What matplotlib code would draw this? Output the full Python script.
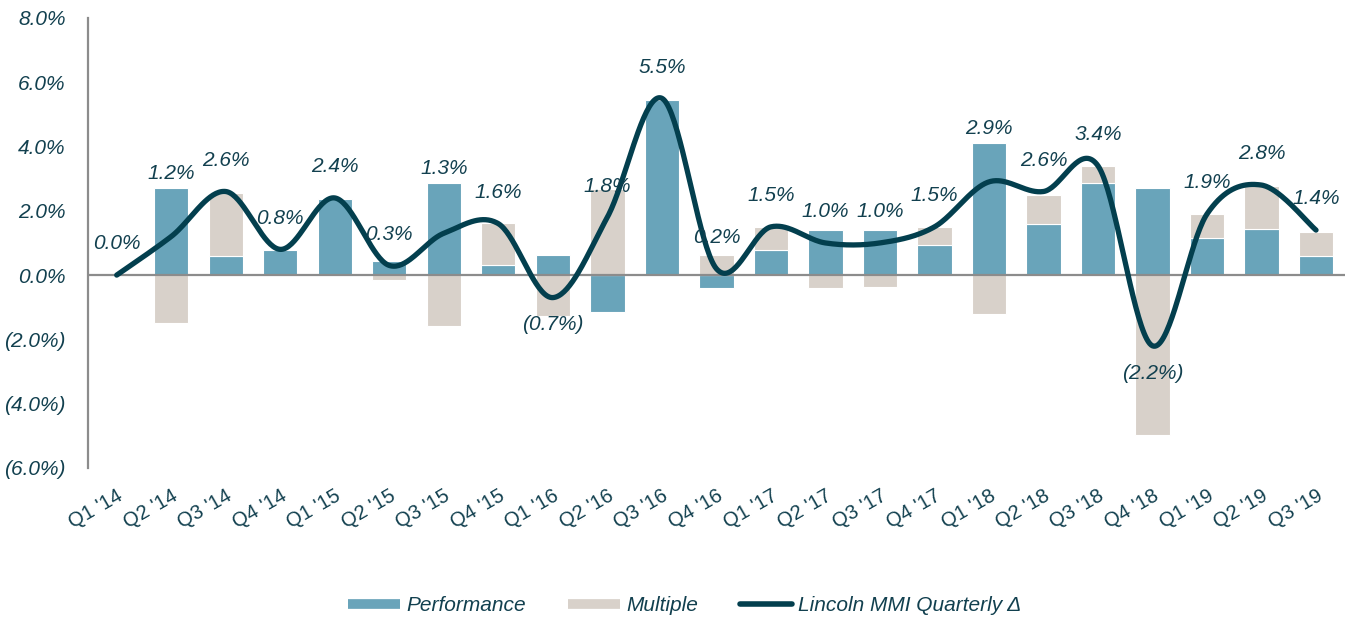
import numpy as np
import matplotlib.pyplot as plt
from matplotlib.lines import Line2D

plt.rcParams['font.family'] = ['Liberation Sans', 'DejaVu Sans']

quarters = ["Q1 '14", "Q2 '14", "Q3 '14", "Q4 '14",
            "Q1 '15", "Q2 '15", "Q3 '15", "Q4 '15",
            "Q1 '16", "Q2 '16", "Q3 '16", "Q4 '16",
            "Q1 '17", "Q2 '17", "Q3 '17", "Q4 '17",
            "Q1 '18", "Q2 '18", "Q3 '18", "Q4 '18",
            "Q1 '19", "Q2 '19", "Q3 '19"]

performance = [0.0, 2.7, 0.6, 0.77, 2.38, 0.45, 2.85, 0.3,
               0.62, -1.15, 5.45, -0.4, 0.77, 1.4, 1.4, 0.95,
               4.12, 1.6, 2.85, 2.7, 1.15, 1.42, 0.6]
multiple = [0.0, -1.5, 1.95, 0.0, 0.0, -0.15, -1.58, 1.32,
            -1.27, 2.67, 0.0, 0.64, 0.74, -0.41, -0.36, 0.56,
            -1.22, 0.9, 0.54, -4.96, 0.74, 1.34, 0.73]
mmi_change = [0.0, 1.2, 2.6, 0.8, 2.4, 0.3, 1.3, 1.6,
              -0.7, 1.8, 5.5, 0.2, 1.5, 1.0, 1.0, 1.5,
              2.9, 2.6, 3.4, -2.2, 1.9, 2.8, 1.4]

PERF_COLOR = "#69a4ba"
MULT_COLOR = "#d8d1ca"
LINE_COLOR = "#033f4e"
TEXT_COLOR = "#12404f"


def smooth(xs, ys, n=40):
    """Catmull-Rom style bezier through every point (like Excel's smoothed line)."""
    pts = np.column_stack([xs, ys]).astype(float)
    out = []
    for i in range(len(pts) - 1):
        p0 = pts[i - 1] if i > 0 else pts[i]
        p1, p2 = pts[i], pts[i + 1]
        p3 = pts[i + 2] if i + 2 < len(pts) else pts[i + 1]
        c1 = p1 + (p2 - p0) / 6
        c2 = p2 - (p3 - p1) / 6
        t = np.linspace(0, 1, n)[:, None]
        seg = ((1 - t) ** 3 * p1 + 3 * (1 - t) ** 2 * t * c1
               + 3 * (1 - t) * t ** 2 * c2 + t ** 3 * p2)
        out.append(seg if i == 0 else seg[1:])
    out = np.vstack(out)
    return out[:, 0], out[:, 1]


def pct(v, pos=None):
    return f"({abs(v):.1f}%)" if v < 0 else f"{v:.1f}%"


fig = plt.figure(figsize=(13.51, 6.17), dpi=100)
ax = fig.add_axes([0.065, 0.2415, 0.9305, 0.7295])

x = np.arange(len(quarters))
perf = np.array(performance)
mult = np.array(multiple)
# multiple sits on top of performance when both have the same sign
base = np.where(np.sign(mult) == np.sign(perf), perf, 0.0)

ax.bar(x, perf, width=0.63, color=PERF_COLOR, edgecolor="white", linewidth=0.8, zorder=2)
ax.bar(x, mult, bottom=base, width=0.63, color=MULT_COLOR, edgecolor="white", linewidth=0.8, zorder=2)
ax.axhline(0, color="#8c8c8c", lw=1.6, zorder=3)

sx, sy = smooth(x, mmi_change)
ax.plot(sx, sy, color=LINE_COLOR, lw=3.8, solid_capstyle="round", zorder=4)

for xi, v, p in zip(x, mmi_change, perf):
    if v >= 0:
        ly = max(v + 0.97, p + 0.45)
    else:
        ly = v - 0.85
    ax.text(xi, ly, pct(v), ha="center", va="center", fontsize=15,
            style="italic", color=TEXT_COLOR, zorder=5)

ax.set_xlim(-0.53, len(quarters) - 0.47)
ax.set_ylim(-6, 8)
ax.set_yticks(np.arange(-6, 9, 2))
ax.yaxis.set_major_formatter(plt.FuncFormatter(pct))
ax.set_xticks(x)
ax.set_xticklabels(quarters, rotation=30, ha="right", rotation_mode="anchor")

for lab in ax.get_yticklabels():
    lab.set_fontstyle("italic")
ax.tick_params(axis="y", length=0, pad=16, labelsize=15, labelcolor=TEXT_COLOR)
ax.tick_params(axis="x", length=0, pad=13, labelsize=14.5, labelcolor=TEXT_COLOR)

for side in ["top", "right", "bottom"]:
    ax.spines[side].set_visible(False)
ax.spines["left"].set_color("#8c8c8c")
ax.spines["left"].set_linewidth(1.6)

handles = [
    Line2D([], [], color=PERF_COLOR, lw=7, solid_capstyle="butt"),
    Line2D([], [], color=MULT_COLOR, lw=7, solid_capstyle="butt"),
    Line2D([], [], color=LINE_COLOR, lw=4, solid_capstyle="round"),
]
labels = ["Performance", "Multiple", "Lincoln MMI Quarterly Δ"]
fig.legend(handles, labels, loc="center", bbox_to_anchor=(0.507, 0.018), ncol=3,
           frameon=False, handlelength=2.5, handletextpad=0.3, columnspacing=2.0,
           prop={"size": 15, "style": "italic"}, labelcolor=TEXT_COLOR)

fig.savefig("out.png", dpi=100)
